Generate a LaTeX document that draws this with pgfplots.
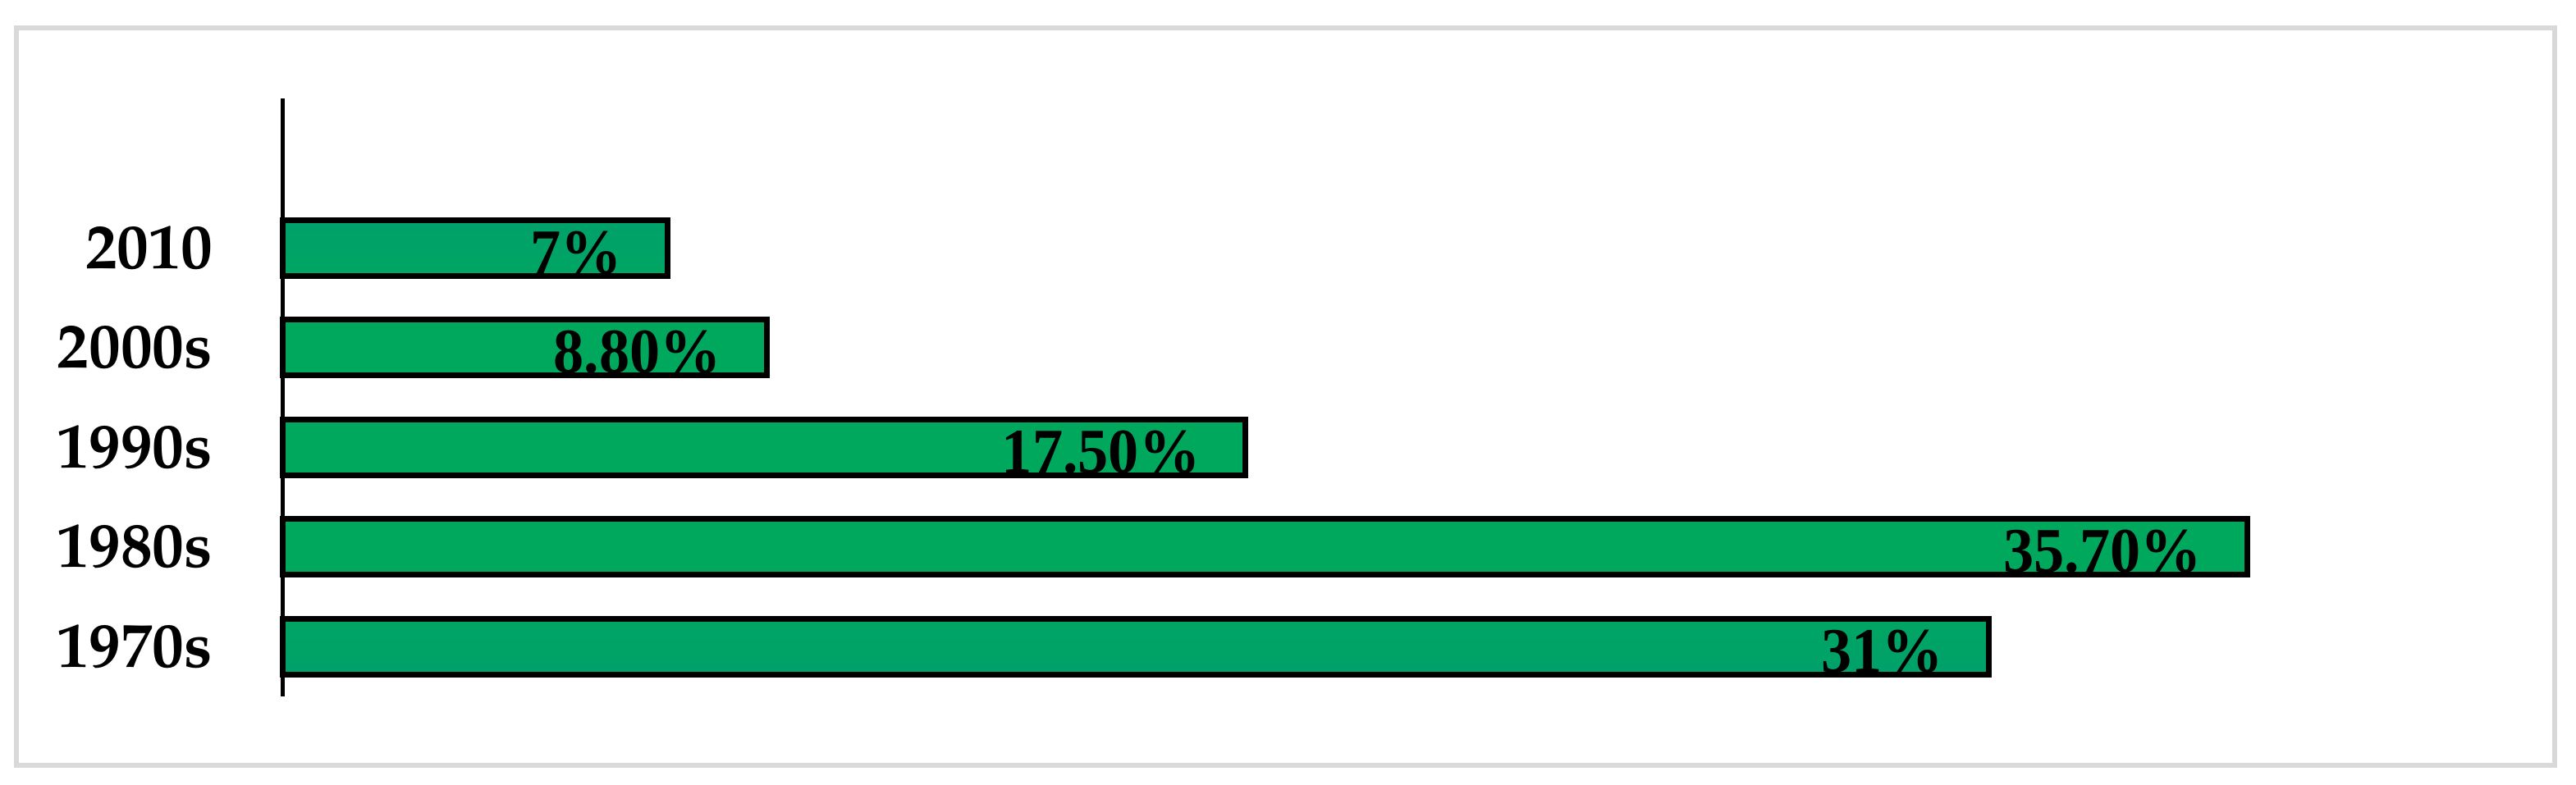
\documentclass[border=0pt]{standalone}
\usepackage{fontspec}
\usepackage{pgfplots}
\pgfplotsset{compat=1.18}
\setmainfont{Liberation Serif}
\newfontfamily\palfont{TeX Gyre Pagella}
\definecolor{bargreen}{RGB}{0,168,94}
\definecolor{baredge}{RGB}{0,142,138}
\definecolor{framegray}{RGB}{217,217,217}
% teal towards top and bottom edge, green in the middle
\pgfdeclareverticalshading{barshade}{100bp}{color(0bp)=(baredge); color(35bp)=(bargreen); color(65bp)=(bargreen); color(100bp)=(baredge)}

\begin{document}
\begin{tikzpicture}
\useasboundingbox (0,0) rectangle (156.8mm,47.8mm);
\draw[framegray, line width=0.8pt] (1.0mm,1.2mm) rectangle (155.5mm,46.1mm);
\begin{axis}[
    at={(17.2mm,5.4mm)}, anchor=south west,
    scale only axis, width=134mm, height=36.4mm,
    xmin=0, xmax=40, ymin=-0.5, ymax=5.5,
    xbar, bar width=3.4mm,
    axis x line=none, axis y line*=left,
    y axis line style={line width=0.75pt},
    xtick=\empty,
    ytick={0,1,2,3,4},
    yticklabels={1970s,1980s,1990s,2000s,2010},
    major tick length=0pt,
    yticklabel style={font=\palfont\bfseries\fontsize{11}{13}\selectfont, anchor=east, inner sep=0pt, xshift=-4.2mm},
    point meta=explicit symbolic,
    nodes near coords={\scalebox{0.96}[1]{\pgfplotspointmeta}},
    every node near coord/.append style={anchor=base east, xshift=-2.6mm, yshift=-1.55mm, inner sep=0pt, font=\bfseries\fontsize{11}{13}\selectfont},
    clip=false,
]
\addplot[draw=black, line width=1.0pt, shading=barshade] coordinates {
    (31,0) [31\%]
    (35.7,1) [35.70\%]
    (17.5,2) [17.50\%]
    (8.8,3) [8.80\%]
    (7,4) [7\%]
};
\end{axis}
\end{tikzpicture}
\end{document}
